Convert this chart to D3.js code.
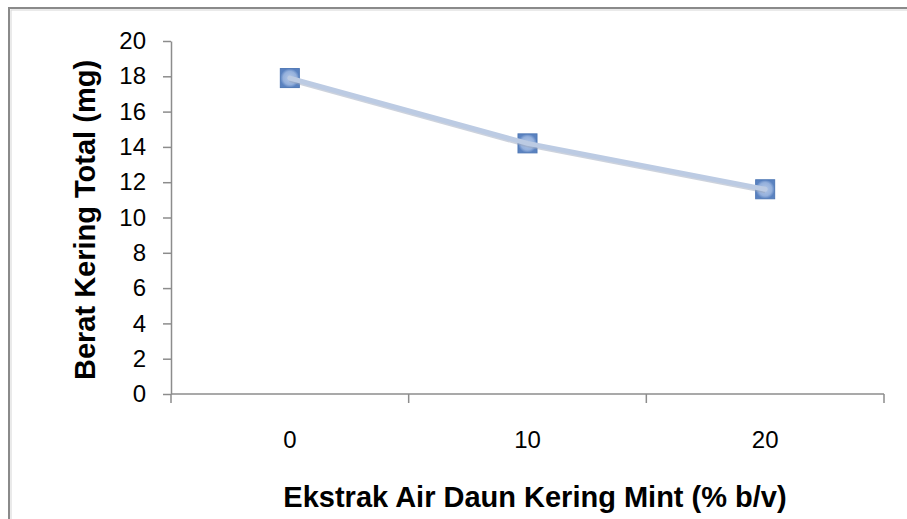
<!DOCTYPE html>
<html><head><meta charset="utf-8">
<script src="https://d3js.org/d3.v7.min.js"></script>
<style>body{margin:0;background:#fff}svg{display:block}</style>
</head><body>
<script>
const categories = ["0", "10", "20"];
const values = [17.9, 14.2, 11.6];
const yTicks = [0, 2, 4, 6, 8, 10, 12, 14, 16, 18, 20];
const xTitle = "Ekstrak Air Daun Kering Mint (% b/v)";
const yTitle = "Berat Kering Total (mg)";

(function () {
const W = 907, H = 519;
const svg = d3.select("body").append("svg").attr("width", W).attr("height", H);
const defs = svg.append("defs");
const grad = defs.append("radialGradient").attr("id", "mk");
grad.append("stop").attr("offset", "0%").attr("stop-color", "#b3c7e6");
grad.append("stop").attr("offset", "70%").attr("stop-color", "#94b0dc");
grad.append("stop").attr("offset", "100%").attr("stop-color", "#5a82c0");

// outer frame
svg.append("rect").attr("x", 9).attr("y", 8).attr("width", 940).attr("height", 560)
  .attr("fill", "none").attr("stroke", "#8a8a8a").attr("stroke-width", 2);
svg.append("rect").attr("x", 11).attr("y", 10).attr("width", 940).attr("height", 560)
  .attr("fill", "none").attr("stroke", "#d6d6d6").attr("stroke-width", 1);

const pL = 171, pR = 884, pT = 41, pB = 394;
const x = d3.scaleBand().domain(categories).range([pL, pR]);
const y = d3.scaleLinear().domain([0, 20]).range([pB, pT]);

const font = "'Liberation Sans', Arial, sans-serif";

// y axis
const ya = svg.append("g").attr("transform", `translate(${pL},0)`)
  .call(d3.axisLeft(y).tickValues(yTicks).tickSize(8).tickPadding(17).tickSizeOuter(0));
ya.select(".domain").attr("stroke", "#8c8c8c").attr("stroke-width", 1.5);
ya.selectAll(".tick line").attr("stroke", "#8c8c8c").attr("stroke-width", 1.5).attr("x1", -8).attr("x2", 0);
ya.selectAll(".tick text").attr("font-family", font).attr("font-size", 24).attr("fill", "#000").attr("x", -25);

// x axis
const xa = svg.append("g").attr("transform", `translate(0,${pB})`)
  .call(d3.axisBottom(x).tickSize(0).tickPadding(34));
xa.select(".domain").remove();
xa.append("line").attr("x1", pL).attr("x2", pR).attr("stroke", "#8c8c8c").attr("stroke-width", 1.5);
const bounds = categories.map(c => x(c)).concat([x(categories[categories.length-1]) + x.bandwidth()]);
xa.selectAll(".bt").data(bounds).enter().append("line")
  .attr("x1", d => d).attr("x2", d => d).attr("y1", 0).attr("y2", 9)
  .attr("stroke", "#8c8c8c").attr("stroke-width", 1.5);
xa.selectAll(".tick text").attr("font-family", font).attr("font-size", 24).attr("fill", "#000")
  .attr("y", 37);

// titles
svg.append("text").attr("x", 535).attr("y", 507).attr("text-anchor", "middle")
  .attr("font-family", font).attr("font-size", 29).attr("font-weight", "bold").text(xTitle);
svg.append("text").attr("transform", `translate(95,220) rotate(-90)`)
  .attr("text-anchor", "middle").attr("font-family", font).attr("font-size", 29)
  .attr("font-weight", "bold").text(yTitle);

const cx = c => x(c) + x.bandwidth() / 2;
const pts = categories.map((c, i) => [cx(c), y(values[i])]);

// markers
const ms = 19;
svg.selectAll(".m").data(pts).enter().append("rect")
  .attr("x", d => d[0] - ms / 2).attr("y", d => d[1] - ms / 2)
  .attr("width", ms).attr("height", ms)
  .attr("fill", "url(#mk)").attr("stroke", "#4f78b5").attr("stroke-width", 1);

// line
const line = d3.line();
svg.append("path").attr("d", line(pts.map(p => [p[0], p[1] + 1.5]))).attr("fill", "none")
  .attr("stroke", "#9aa6bb").attr("stroke-opacity", 0.5).attr("stroke-width", 5);
svg.append("path").attr("d", line(pts)).attr("fill", "none")
  .attr("stroke", "#bccbe3").attr("stroke-width", 5).attr("stroke-linecap", "round");
})();
</script>
</body></html>
